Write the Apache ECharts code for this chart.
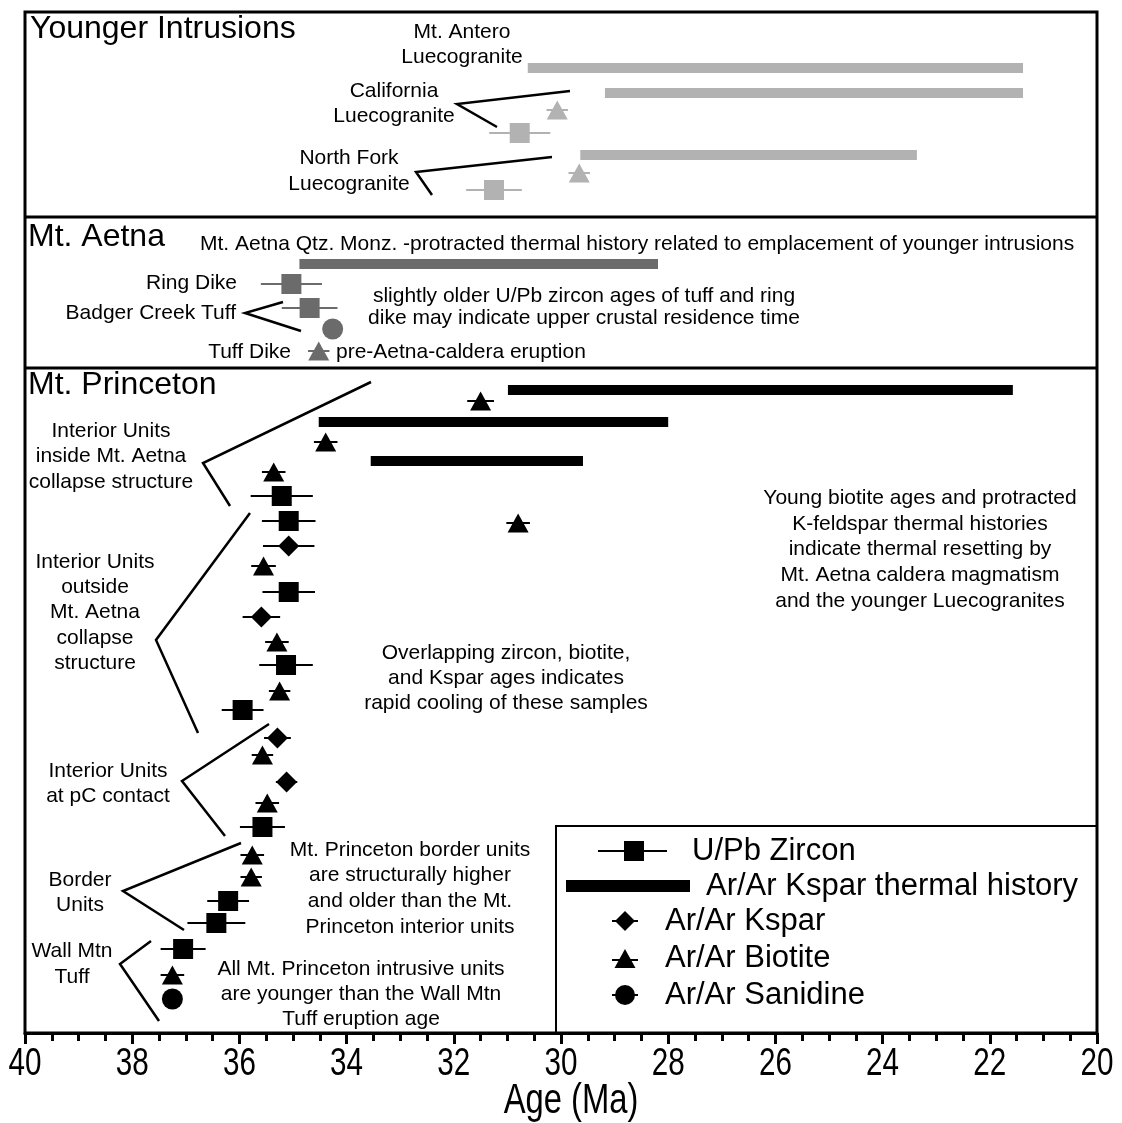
<!DOCTYPE html>
<html>
<head>
<meta charset="utf-8">
<script src="https://cdn.jsdelivr.net/npm/echarts@6/dist/echarts.min.js"></script>
<style>
  html, body { margin: 0; padding: 0; background: #fff; }
  #chart { width: 1122px; height: 1123px; }
</style>
</head>
<body>
<div id="chart"></div>
<script>
const FONT = '"Liberation Sans", Arial, Helvetica, sans-serif';

// Suites: 0 = younger intrusions, 1 = Mt. Aetna, 2 = Mt. Princeton
const suiteColors = ['#b2b2b2', '#6b6b6b', '#000000'];

// Rows are lanes down the figure: 0 at the top frame, 102.1 at the age axis.
// [age (Ma), ± uncertainty (Ma), row, suite]
const zircon = [
  [30.77, 0.57, 12.1, 0],
  [31.25, 0.52, 17.8, 0],
  [35.03, 0.57, 27.2, 1],
  [34.69, 0.52, 29.6, 1],
  [35.21, 0.58, 48.4, 2],
  [35.08, 0.50, 50.9, 2],
  [35.08, 0.49, 58.0, 2],
  [35.13, 0.50, 65.3, 2],
  [35.94, 0.39, 69.8, 2],
  [35.57, 0.42, 81.5, 2],
  [36.21, 0.39, 88.9, 2],
  [36.43, 0.54, 91.1, 2],
  [37.05, 0.42, 93.7, 2]
];

const ksparAge = [
  [35.08, 0.48, 53.4, 2],
  [35.59, 0.35, 60.5, 2],
  [35.29, 0.25, 72.6, 2],
  [35.12, 0.20, 77.0, 2]
];

const biotite = [
  [30.07, 0.20, 9.8, 0],
  [29.66, 0.20, 16.1, 0],
  [34.52, 0.20, 33.9, 1],
  [31.50, 0.25, 38.9, 2],
  [34.39, 0.22, 43.0, 2],
  [35.36, 0.22, 46.0, 2],
  [30.80, 0.22, 51.1, 2],
  [35.55, 0.23, 55.4, 2],
  [35.30, 0.22, 63.0, 2],
  [35.25, 0.20, 67.9, 2],
  [35.57, 0.20, 74.3, 2],
  [35.48, 0.22, 79.1, 2],
  [35.76, 0.22, 84.3, 2],
  [35.78, 0.20, 86.5, 2],
  [37.25, 0.22, 96.3, 2]
];

// [age (Ma), row, suite]
const sanidine = [
  [34.26, 31.7, 1],
  [37.25, 98.7, 2]
];

// K-feldspar thermal histories and spans: [oldest age, youngest age, row, suite]
const ksparHistory = [
  [30.62, 21.38, 5.6, 0],
  [29.18, 21.38, 8.1, 0],
  [29.64, 23.36, 14.3, 0],
  [34.88, 28.19, 25.2, 1],
  [30.99, 21.57, 37.8, 2],
  [34.52, 28.00, 41.0, 2],
  [33.55, 29.59, 44.9, 2]
];

const ageMin = 20, ageMax = 40, ageStep = 2;
const ageTicks = [40, 38, 36, 34, 32, 30, 28, 26, 24, 22, 20];
const axisTitle = 'Age (Ma)';

function markerData(list, rowIdx, suiteIdx) {
  return list.map(d => ({
    value: [d[0], d[rowIdx]],
    itemStyle: { color: suiteColors[d[suiteIdx]], opacity: 1 }
  }));
}

function txt(str, x, y, size, align) {
  return {
    type: 'text', silent: true, z: 50,
    style: {
      text: str, x: x, y: y, fill: '#000',
      font: size + 'px ' + FONT,
      align: align || 'center', textAlign: align || 'center',
      verticalAlign: 'middle', textVerticalAlign: 'middle'
    }
  };
}
// tall, narrow lettering used on the age axis
function narrowTxt(id, str, x, y, size, sx) {
  return {
    id: id, type: 'text', silent: true, z: 50, x: x, y: y, scaleX: sx,
    style: {
      text: str, x: 0, y: 0, fill: '#000', font: size + 'px ' + FONT,
      align: 'center', textAlign: 'center', verticalAlign: 'middle', textVerticalAlign: 'middle'
    }
  };
}
function block(lines, x, y0, dy, size, align) {
  return lines.map((s, i) => txt(s, x, y0 + i * dy, size, align));
}
function poly(points, w) {
  return { type: 'polyline', silent: true, z: 50,
    shape: { points: points }, style: { stroke: '#000', lineWidth: w || 2.5, fill: null } };
}

const graphics = [].concat(
  // panel separators
  [poly([[25, 217], [1097, 217]], 3), poly([[25, 368], [1097, 368]], 3)],
  // panel titles
  [txt('Younger Intrusions', 30, 29, 32, 'left'),
   txt('Mt. Aetna', 28, 237, 32, 'left'),
   txt('Mt. Princeton', 28, 385, 32, 'left')],
  // younger intrusions labels
  block(['Mt. Antero', 'Luecogranite'], 462, 32, 25, 21),
  block(['California', 'Luecogranite'], 394, 91, 25, 21),
  block(['North Fork', 'Luecogranite'], 349, 158, 26, 21),
  [poly([[570, 91], [457, 104], [497, 127]]),
   poly([[552, 157], [416, 172], [432, 195]])],
  // Mt. Aetna labels
  [txt('Mt. Aetna Qtz. Monz. -protracted thermal history related to emplacement of younger intrusions', 200, 244, 21, 'left'),
   txt('Ring Dike', 237, 283, 21, 'right'),
   txt('Badger Creek Tuff', 236, 313, 21, 'right'),
   txt('Tuff Dike', 291, 352, 21, 'right'),
   txt('pre-Aetna-caldera eruption', 336, 352, 21, 'left'),
   poly([[283, 302], [245, 313], [301, 331]])],
  block(['slightly older U/Pb zircon ages of tuff and ring', 'dike may indicate upper crustal residence time'], 584, 296, 22, 21),
  // Mt. Princeton labels
  block(['Interior Units', 'inside Mt. Aetna', 'collapse structure'], 111, 431, 25.5, 21),
  block(['Interior Units', 'outside', 'Mt. Aetna', 'collapse', 'structure'], 95, 562, 25.3, 21),
  block(['Interior Units', 'at pC contact'], 108, 771, 25.5, 21),
  block(['Border', 'Units'], 80, 880, 25, 21),
  block(['Wall Mtn', 'Tuff'], 72, 951, 26, 21),
  block(['Young biotite ages and protracted', 'K-feldspar thermal histories', 'indicate thermal resetting by',
         'Mt. Aetna caldera magmatism', 'and the younger Luecogranites'], 920, 498, 25.8, 21),
  block(['Overlapping zircon, biotite,', 'and Kspar ages indicates', 'rapid cooling of these samples'], 506, 653, 25, 21),
  block(['Mt. Princeton border units', 'are structurally higher', 'and older than the Mt.', 'Princeton interior units'], 410, 850, 25.7, 21),
  block(['All Mt. Princeton intrusive units', 'are younger than the Wall Mtn', 'Tuff eruption age'], 361, 969, 25, 21),
  [poly([[371, 382], [203, 463], [230, 506]]),
   poly([[250, 513], [156, 640], [198, 733]]),
   poly([[269, 724], [182, 781], [225, 836]]),
   poly([[241, 843], [123, 891], [184, 930]]),
   poly([[151, 941], [120, 964], [159, 1021]])],
  // legend
  [poly([[556, 1033], [556, 826], [1097, 826]], 2),
   poly([[598, 851], [667, 851]], 2),
   { type: 'rect', silent: true, z: 51, shape: { x: 624, y: 841, width: 20, height: 20 }, style: { fill: '#000' } },
   txt('U/Pb Zircon', 692, 851, 31, 'left'),
   { type: 'rect', silent: true, z: 51, shape: { x: 566, y: 880, width: 124, height: 12 }, style: { fill: '#000' } },
   txt('Ar/Ar Kspar thermal history', 706, 886, 31, 'left'),
   poly([[612, 921], [638, 921]], 2),
   { type: 'polygon', silent: true, z: 51, shape: { points: [[625, 911], [635, 921], [625, 931], [615, 921]] }, style: { fill: '#000' } },
   txt('Ar/Ar Kspar', 665, 921, 31, 'left'),
   poly([[612, 960], [638, 960]], 2),
   { type: 'polygon', silent: true, z: 51, shape: { points: [[625, 949], [635.5, 968], [614.5, 968]] }, style: { fill: '#000' } },
   txt('Ar/Ar Biotite', 665, 958, 31, 'left'),
   poly([[612, 995], [638, 995]], 2),
   { type: 'circle', silent: true, z: 51, shape: { cx: 625, cy: 995, r: 10 }, style: { fill: '#000' } },
   txt('Ar/Ar Sanidine', 665, 995, 31, 'left')]
);

const chart = echarts.init(document.getElementById('chart'), null, { renderer: 'canvas' });
chart.setOption({
  animation: false,
  backgroundColor: '#fff',
  grid: { left: 25, right: 25, top: 12, bottom: 90, show: true, borderColor: '#000', borderWidth: 3, backgroundColor: '#fff' },
  xAxis: {
    type: 'value', min: ageMin, max: ageMax, interval: ageStep, inverse: true, position: 'bottom',
    axisLine: { onZero: false, lineStyle: { color: '#000', width: 3 } },
    axisTick: { length: 11, lineStyle: { color: '#000', width: 3 } },
    minorTick: { show: true, splitNumber: 4, length: 8, lineStyle: { color: '#000', width: 3 } },
    splitLine: { show: false },
    axisLabel: { show: false }
  },
  yAxis: { type: 'value', min: 0, max: 102.1, inverse: true, show: false },
  graphic: { elements: graphics },
  series: [
    {
      type: 'custom', name: 'Ar/Ar Kspar thermal history', z: 2,
      data: ksparHistory,
      encode: { x: [0, 1], y: 2 },
      renderItem: (params, api) => {
        const a = api.coord([api.value(0), api.value(2)]);
        const b = api.coord([api.value(1), api.value(2)]);
        const h = 10;
        return { type: 'rect',
          shape: { x: Math.min(a[0], b[0]), y: a[1] - h / 2, width: Math.abs(b[0] - a[0]), height: h },
          style: { fill: suiteColors[api.value(3)] } };
      }
    },
    {
      type: 'custom', name: 'uncertainty', z: 3,
      data: zircon.concat(ksparAge, biotite),
      encode: { x: 0, y: 2 },
      renderItem: (params, api) => {
        const age = api.value(0), err = api.value(1), row = api.value(2);
        const a = api.coord([age + err, row]);
        const b = api.coord([age - err, row]);
        return { type: 'line',
          shape: { x1: a[0], y1: a[1], x2: b[0], y2: b[1] },
          style: { stroke: suiteColors[api.value(3)], lineWidth: 2 } };
      }
    },
    { type: 'scatter', name: 'U/Pb Zircon', z: 4, symbol: 'rect', symbolSize: 20, data: markerData(zircon, 2, 3) },
    { type: 'scatter', name: 'Ar/Ar Kspar', z: 4, symbol: 'diamond', symbolSize: 21, data: markerData(ksparAge, 2, 3) },
    { type: 'scatter', name: 'Ar/Ar Biotite', z: 4, symbol: 'triangle', symbolSize: [21, 19], data: markerData(biotite, 2, 3) },
    { type: 'scatter', name: 'Ar/Ar Sanidine', z: 4, symbol: 'circle', symbolSize: 21, data: markerData(sanidine, 1, 2) }
  ]
});

// Age labels under the axis, placed through the axis scale
const axisY = chart.convertToPixel({ yAxisIndex: 0 }, 102.1);
const tickLabels = ageTicks.map((v, i) =>
  narrowTxt('tick' + i, String(v), chart.convertToPixel({ xAxisIndex: 0 }, v), axisY + 31, 39, 0.76));
const midX = chart.convertToPixel({ xAxisIndex: 0 }, (ageMin + ageMax) / 2);
tickLabels.push(narrowTxt('axisTitle', axisTitle, midX + 10, axisY + 68, 42, 0.78));
chart.setOption({ graphic: { elements: graphics.concat(tickLabels) } });
</script>
</body>
</html>
